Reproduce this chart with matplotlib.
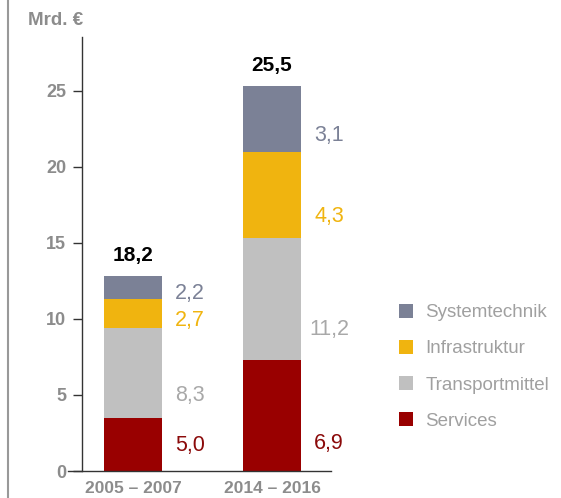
import numpy as np
import matplotlib
matplotlib.use("Agg")
from matplotlib import pyplot as plt
from matplotlib.lines import Line2D

plt.rcParams['font.family'] = ['Liberation Sans', 'DejaVu Sans']

# data (bar heights as drawn in the chart, labels as printed)
periods = ["2005 – 2007", "2014 – 2016"]
segments = ["Services", "Transportmittel", "Infrastruktur", "Systemtechnik"]
heights = {
    "Services":        [3.5, 7.3],
    "Transportmittel": [5.9, 8.0],
    "Infrastruktur":   [1.9, 5.7],
    "Systemtechnik":   [1.5, 4.3],
}
value_labels = {
    "Services":        ["5,0", "6,9"],
    "Transportmittel": ["8,3", "11,2"],
    "Infrastruktur":   ["2,7", "4,3"],
    "Systemtechnik":   ["2,2", "3,1"],
}
total_labels = ["18,2", "25,5"]
yticks = [0, 5, 10, 15, 20, 25]

colors = {
    "Services": "#990000",
    "Transportmittel": "#c0c0c0",
    "Infrastruktur": "#f0b40f",
    "Systemtechnik": "#7b8196",
}
text_colors = {
    "Services": "#8b0a0a",
    "Transportmittel": "#a8a8a8",
    "Infrastruktur": "#f0b40f",
    "Systemtechnik": "#7b8196",
}
grey = "#8c8c8c"

W, H = 561, 498
fig = plt.figure(figsize=(W / 100, H / 100), dpi=100)
# axes spans pixel x 68..331, y 37..471
ax = fig.add_axes([68 / W, (H - 471) / H, (331 - 68) / W, (471 - 37) / H])

x = np.arange(len(periods))
px_per_unit = 139.0
ax.set_xlim(-(133 - 68) / px_per_unit, 1 + (331 - 272) / px_per_unit)
ax.set_ylim(0, 28.55)
width = 58 / px_per_unit

bottom = np.zeros(len(periods))
for seg in segments:
    h = np.array(heights[seg])
    ax.bar(x, h, width=width, bottom=bottom, color=colors[seg], linewidth=0)
    ly = np.clip(bottom + 0.25 * h, 1.7, None)
    for xi, yi, lab in zip(x, ly, value_labels[seg]):
        ax.text(xi + 0.41, yi, lab, ha='center', va='center',
                fontsize=15.5, color=text_colors[seg])
    bottom = bottom + h

for xi, top, lab in zip(x, bottom, total_labels):
    ax.annotate(lab, (xi, top), xytext=(0, 11), textcoords='offset points',
                ha='center', va='baseline', fontsize=15, fontweight='bold',
                color='black')

for s in ['top', 'right']:
    ax.spines[s].set_visible(False)
ax.spines['left'].set_position(('data', -(133 - 82) / px_per_unit))
ax.spines['left'].set_color('#333333')
ax.spines['bottom'].set_color('#333333')
ax.spines['left'].set_linewidth(1.0)
ax.spines['bottom'].set_linewidth(1.0)

ax.set_yticks(yticks)
ax.set_yticklabels([str(t) for t in yticks])
ax.tick_params(axis='y', length=6.5, width=1, color='#333333', pad=5,
               labelsize=13, labelcolor=grey)
for t in ax.get_yticklabels():
    t.set_fontweight('bold')
ax.set_xticks(x)
ax.set_xticklabels(periods)
ax.tick_params(axis='x', length=0, pad=7, labelsize=12.5, labelcolor=grey)
for t in ax.get_xticklabels():
    t.set_fontweight('bold')

fig.text(28 / W, 1 - 20 / H, "Mrd. €", ha='left', va='center',
         fontsize=13.5, fontweight='bold', color=grey)

# left frame line
fig.add_artist(Line2D([7.5 / W, 7.5 / W], [0, 1], color='#999999', lw=1.5,
                      transform=fig.transFigure))

handles = [Line2D([], [], marker='s', linestyle='', markersize=9.5,
                  markerfacecolor=colors[s], markeredgewidth=0)
           for s in segments[::-1]]
fig.legend(handles, segments[::-1], loc='upper left',
           bbox_to_anchor=(398 / W, 1 - 304 / H), frameon=False,
           fontsize=13.5, labelcolor='#a0a0a0', handlelength=0.9,
           handletextpad=0.55, labelspacing=1.02, borderpad=0,
           borderaxespad=0)

fig.savefig("out.png", dpi=100)
